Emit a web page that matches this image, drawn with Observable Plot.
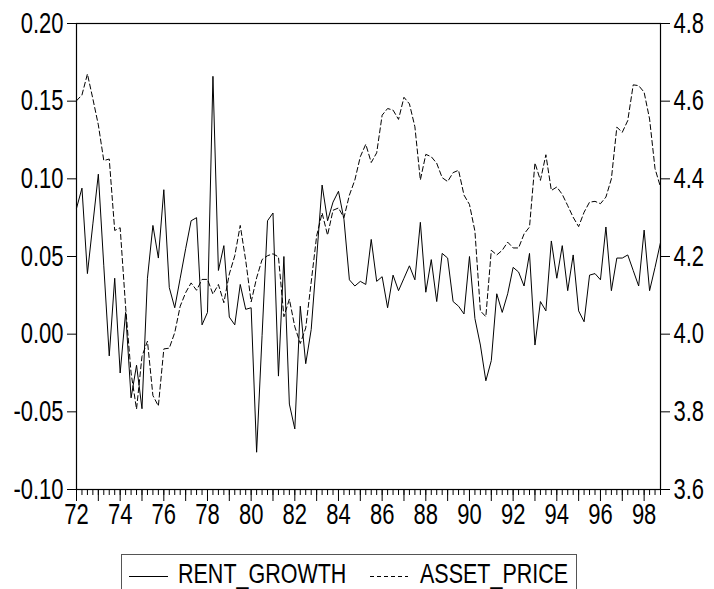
<!DOCTYPE html>
<html>
<head>
<meta charset="utf-8">
<script src="https://cdn.jsdelivr.net/npm/d3@7"></script>
<script src="https://cdn.jsdelivr.net/npm/@observablehq/plot@0.6"></script>
<style>
  body { margin: 0; background: #fff; }
  #wrap { position: relative; width: 714px; height: 589px; overflow: hidden; background: #fff; }
  #chart { position: absolute; left: 0; top: 0; }
  #legend { position: absolute; left: 121px; top: 554px; }
</style>
</head>
<body>
<div id="wrap">
  <div id="chart"></div>
  <svg id="legend" width="457" height="35"></svg>
</div>
<script>
// ---- data (quarterly, 1972Q1 .. 1998Q4) ----
const startYear = 1972;
const seriesNames = ["RENT_GROWTH", "ASSET_PRICE"];
const rentGrowth = [
  0.081, 0.094, 0.039, 0.071, 0.103, 0.044, -0.014, 0.036,
  -0.025, 0.014, -0.041, -0.020, -0.048, 0.036, 0.070, 0.049,
  0.093, 0.030, 0.017, 0.036, 0.055, 0.073, 0.075, 0.006,
  0.014, 0.166, 0.041, 0.057, 0.011, 0.006, 0.032, 0.016,
  0.017, -0.076, -0.001, 0.073, 0.078, -0.027, 0.050, -0.045,
  -0.061, 0.018, -0.019, 0.003, 0.049, 0.096, 0.073, 0.085,
  0.092, 0.074, 0.035, 0.031, 0.034, 0.032, 0.061, 0.034,
  0.037, 0.017, 0.038, 0.028, 0.036, 0.044, 0.035, 0.072,
  0.027, 0.048, 0.021, 0.052, 0.049, 0.021, 0.018, 0.013,
  0.050, 0.010, -0.007, -0.030, -0.017, 0.026, 0.014, 0.026,
  0.043, 0.040, 0.031, 0.052, -0.007, 0.021, 0.015, 0.060,
  0.036, 0.057, 0.028, 0.051, 0.015, 0.008, 0.038, 0.039,
  0.035, 0.069, 0.028, 0.049, 0.049, 0.051, 0.041, 0.031,
  0.067, 0.028, 0.043, 0.059
];
const assetPrice = [
  4.601, 4.616, 4.670, 4.606, 4.539, 4.447, 4.451, 4.267,
  4.274, 4.070, 3.900, 3.807, 3.943, 3.982, 3.842, 3.815,
  3.962, 3.964, 4.004, 4.072, 4.107, 4.132, 4.113, 4.141,
  4.141, 4.103, 4.128, 4.081, 4.155, 4.202, 4.280, 4.190,
  4.083, 4.145, 4.192, 4.202, 4.207, 4.199, 4.045, 4.090,
  4.019, 3.976, 4.016, 4.134, 4.253, 4.312, 4.255, 4.319,
  4.325, 4.300, 4.358, 4.397, 4.457, 4.489, 4.442, 4.467,
  4.564, 4.581, 4.577, 4.553, 4.610, 4.593, 4.534, 4.397,
  4.463, 4.457, 4.440, 4.403, 4.393, 4.416, 4.422, 4.358,
  4.334, 4.265, 4.060, 4.045, 4.216, 4.204, 4.216, 4.237,
  4.222, 4.222, 4.258, 4.276, 4.441, 4.396, 4.462, 4.370,
  4.379, 4.360, 4.331, 4.301, 4.277, 4.314, 4.340, 4.342,
  4.336, 4.353, 4.400, 4.533, 4.520, 4.550, 4.642, 4.640,
  4.623, 4.554, 4.426, 4.379
];
const leftTicks = [-0.10, -0.05, 0.00, 0.05, 0.10, 0.15, 0.20];
const rightTicks = [3.6, 3.8, 4.0, 4.2, 4.4, 4.6, 4.8];
const labelYears = [1972, 1974, 1976, 1978, 1980, 1982, 1984, 1986, 1988, 1990, 1992, 1994, 1996, 1998];

// right axis (asset price) is mapped onto the left scale
const rightMin = rightTicks[0], rightMax = rightTicks[rightTicks.length - 1];
const leftMin = leftTicks[0], leftMax = leftTicks[leftTicks.length - 1];
const toLeft = v => leftMin + (v - rightMin) * (leftMax - leftMin) / (rightMax - rightMin);

const data = rentGrowth.map((r, i) => ({
  t: startYear + i / 4,
  rent: r,
  asset: toLeft(assetPrice[i])
}));
const lastT = data[data.length - 1].t;
const quarterTicks = data.map(d => d.t);
const yearTicks = d3.range(startYear, Math.floor(lastT) + 1);

const font = "'Liberation Sans', Arial, Helvetica, sans-serif";

const chart = Plot.plot({
  width: 714,
  height: 540,
  marginTop: 23,
  marginRight: 54,
  marginBottom: 51,
  marginLeft: 76,
  style: { fontFamily: font, fontSize: "22px", color: "black", background: "white" },
  x: { domain: [startYear, lastT] },
  y: { domain: [leftMin, leftMax] },
  marks: [
    Plot.axisY({ ticks: leftTicks, tickSize: 9, tickPadding: 4, tickFormat: d => d.toFixed(2), label: null }),
    Plot.axisY({ anchor: "right", ticks: rightTicks.map(toLeft), tickSize: 9, tickPadding: 4,
      tickFormat: (d, i) => rightTicks[i].toFixed(1), label: null }),
    Plot.axisX({ ticks: quarterTicks, tickSize: 6, tickFormat: () => "", label: null }),
    Plot.axisX({ ticks: yearTicks, tickSize: 12, tickFormat: () => "", label: null }),
    Plot.axisX({ ticks: labelYears, tickSize: 0, tickPadding: 14, tickFormat: d => String(d).slice(2), label: null }),
    Plot.line(data, { x: "t", y: "asset", stroke: "black", strokeWidth: 1, strokeDasharray: "5,3" }),
    Plot.line(data, { x: "t", y: "rent", stroke: "black", strokeWidth: 1 }),
    Plot.frame({ stroke: "black", strokeWidth: 1.2 })
  ]
});

// EViews-style text is vertically stretched
chart.querySelectorAll('g[aria-label$="tick label"] text').forEach(t => {
  const tr = t.getAttribute("transform");
  if (tr) t.setAttribute("transform", tr + " scale(1,1.3)");
});
document.getElementById("chart").appendChild(chart);

// legend (box continues past the bottom edge, as in the reference)
const lg = d3.select("#legend");
lg.append("rect").attr("x", 0.5).attr("y", 0.5).attr("width", 455).attr("height", 60)
  .attr("fill", "white").attr("stroke", "#555").attr("stroke-width", 1);
const items = [
  { name: seriesNames[0], x0: 8, x1: 47, tx: 57, dash: null },
  { name: seriesNames[1], x0: 249, x1: 287, tx: 299, dash: "4,3" }
];
items.forEach(it => {
  lg.append("line").attr("x1", it.x0).attr("x2", it.x1).attr("y1", 22.5).attr("y2", 22.5)
    .attr("stroke", "black").attr("stroke-width", 1).attr("stroke-dasharray", it.dash);
  lg.append("text").attr("transform", `translate(${it.tx},28.5) scale(1,1.25)`)
    .attr("font-family", font).attr("font-size", 21.5).attr("fill", "black").text(it.name);
});
</script>
</body>
</html>
